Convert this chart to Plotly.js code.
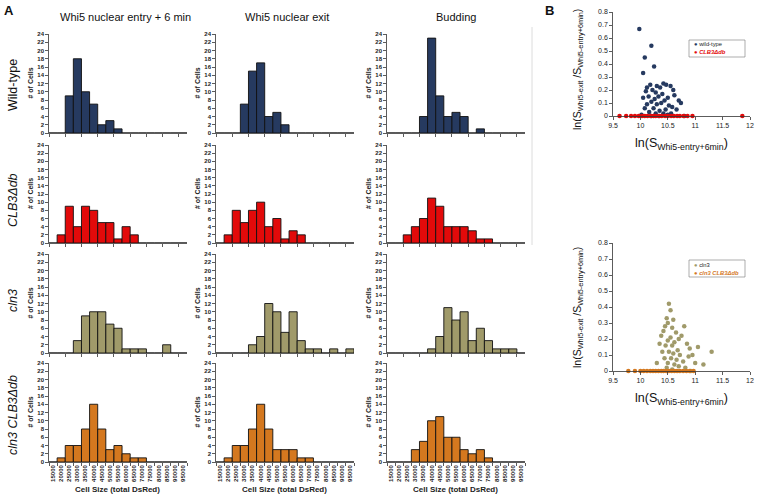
<!DOCTYPE html>
<html><head><meta charset="utf-8">
<script src="https://cdn.plot.ly/plotly-3.0.1.min.js"></script>
<style>html,body{margin:0;padding:0;background:#fff}#chart{width:762px;height:503px}</style>
</head><body><div id="chart"></div>
<script>
// ---- Data ----
const sizeBins = ["15000","20000","25000","30000","35000","40000","45000","50000","55000","60000","65000","70000","75000","80000","85000","90000","95000"];
const stages = ["Whi5 nuclear entry + 6 min","Whi5 nuclear exit","Budding"];
const strains = ["Wild-type","<i>CLB3Δdb</i>","<i>cln3</i>","<i>cln3 CLB3Δdb</i>"];
// counts per bin (# of cells)
const wtEntry   = [0,0,9,18,10,7,2,3,1,0,0,0,0,0,0,0,0];
const wtExit    = [0,0,0,7,15,17,4,5,2,0,0,0,0,0,0,0,0];
const wtBud     = [0,0,0,0,4,23,9,4,5,4,0,1,0,0,0,0,0];
const clbEntry  = [0,2,9,4,9,8,5,5,1,4,2,0,0,0,0,0,0];
const clbExit   = [0,2,8,5,8,10,4,6,1,3,2,0,0,0,0,0,0];
const clbBud    = [0,0,2,4,6,11,9,4,4,4,3,1,1,0,0,0,0];
const cln3Entry = [0,0,0,3,9,10,10,7,6,1,1,1,0,0,2,0,0];
const cln3Exit  = [0,0,0,0,2,4,12,10,5,10,3,1,1,0,1,0,1];
const cln3Bud   = [0,0,0,0,0,1,4,11,8,10,3,6,3,1,1,1,0];
const dblEntry  = [0,1,4,4,8,14,8,3,4,2,1,1,0,0,0,0,0];
const dblExit   = [0,1,4,4,8,14,8,3,3,3,1,1,0,0,0,0,0];
const dblBud    = [0,0,0,3,5,10,11,6,6,3,2,3,1,0,0,0,0];
// scatter (panel B)
const wtX  = [9.98,10.2,10.08,10.25,10.05,10.42,10.18,10.3,10.12,10.36,10.47,10.55,10.22,10.1,10.28,10.4,10.6,10.15,10.33,10.5,10.05,10.26,10.44,10.62,10.2,10.38,10.12,10.3,10.52,10.7,10.08,10.24,10.46,10.35,10.58,10.16,10.42,10.28,10.66,10.02,10.5,10.74,10.2,10.34,10.56,10.8];
const wtY  = [0.67,0.54,0.45,0.38,0.33,0.25,0.24,0.23,0.22,0.22,0.24,0.23,0.2,0.19,0.18,0.17,0.2,0.15,0.15,0.14,0.14,0.13,0.12,0.16,0.11,0.1,0.09,0.09,0.08,0.12,0.06,0.06,0.05,0.04,0.07,0.03,0.02,0.02,0.05,0.01,0.01,0.1,0.0,0.0,0.02,0.0];
const clbX = [9.62,9.74,9.83,9.9,9.97,10.03,10.08,10.13,10.19,10.24,10.28,10.34,10.39,10.45,10.5,10.56,10.61,10.67,10.72,10.79,10.86,10.95,11.86];
const clbY = [0,0,0,0,0,0,0,0,0,0,0,0,0,0,0,0,0,0,0,0,0,0,0];
const cln3X = [10.52,10.55,10.48,10.6,10.5,10.45,10.58,10.42,10.65,10.38,10.55,10.7,10.5,10.62,10.35,10.46,10.58,10.75,10.8,10.85,10.9,10.68,10.4,10.52,10.6,10.72,10.95,11.05,10.44,10.56,10.66,10.78,10.88,10.5,10.62,10.3,11.0,11.3,10.7,10.82,10.48,10.58,11.15,10.92];
const cln3Y = [0.42,0.38,0.33,0.32,0.3,0.28,0.27,0.25,0.24,0.22,0.21,0.2,0.19,0.18,0.17,0.16,0.16,0.22,0.28,0.17,0.14,0.13,0.12,0.12,0.11,0.1,0.1,0.15,0.08,0.08,0.07,0.06,0.09,0.05,0.04,0.05,0.05,0.12,0.03,0.02,0.02,0.01,0.04,0.0];
const dblX = [9.78,9.9,10.0,10.06,10.12,10.18,10.23,10.28,10.33,10.38,10.42,10.47,10.52,10.57,10.62,10.67,10.72,10.78,10.84,10.9,10.97];
const dblY = [0,0,0,0,0,0,0,0,0,0,0,0,0,0,0,0,0,0,0,0,0];

const histData = [[wtEntry,wtExit,wtBud],[clbEntry,clbExit,clbBud],[cln3Entry,cln3Exit,cln3Bud],[dblEntry,dblExit,dblBud]];
const rowColors = ["#263a60","#e20a0a","#a09a6a","#d4781f"];

// ---- Layout geometry (pixels) ----
const W = 762, H = 503;
const px = v => v / W, py = v => 1 - v / H;
const colLeft = [49, 216, 387], colW = 138;
const rowZero = [133, 243, 353, 462], rowTop = [34, 145, 254, 363];
const FF = "Liberation Sans, Arial, sans-serif";

const data = [];
const layout = {
  width: W, height: H, margin: {l:0,r:0,t:0,b:0},
  paper_bgcolor: "#fff", plot_bgcolor: "rgba(0,0,0,0)",
  bargap: 0, showlegend: false, font: {family: FF, color: "#111"},
  annotations: [], shapes: []
};
function note(text, x, y, font, extra) {
  layout.annotations.push(Object.assign({
    text: text, xref: "paper", yref: "paper", x: px(x), y: py(y),
    xanchor: "center", yanchor: "middle", showarrow: false, font: font
  }, extra || {}));
}

let k = 0;
for (let r = 0; r < 4; r++) {
  for (let c = 0; c < 3; c++) {
    k++;
    const xa = "x" + k, ya = "y" + k;
    data.push({
      type: "bar", x: sizeBins, y: histData[r][c], xaxis: xa, yaxis: ya,
      marker: {color: rowColors[r], line: {color: "#111", width: 0.9}},
      showlegend: false, hoverinfo: "skip"
    });
    layout["xaxis" + k] = {
      domain: [px(colLeft[c]), px(colLeft[c] + colW)], anchor: ya,
      type: "category", range: [-0.5, 16.5], tickson: "boundaries",
      ticks: "outside", ticklen: 3, tickwidth: 0.8, tickcolor: "#333",
      showline: true, linecolor: "#333", linewidth: 0.8, showgrid: false, zeroline: false,
      showticklabels: r === 3, tickangle: -90,
      tickfont: {family: FF, size: 6, weight: "bold", color: "#222"}, fixedrange: true
    };
    layout["yaxis" + k] = {
      domain: [py(rowZero[r]), py(rowTop[r])], anchor: xa,
      range: [0, 24], tick0: 0, dtick: 2,
      ticks: "outside", ticklen: 3, tickwidth: 0.8, tickcolor: "#333",
      showline: true, linecolor: "#333", linewidth: 0.8, showgrid: false, zeroline: false,
      tickfont: {family: FF, size: 6, weight: "bold", color: "#222"}, fixedrange: true
    };
    note("# of Cells", colLeft[c] - 19, (rowZero[r] + rowTop[r]) / 2,
      {family: FF, size: 7, weight: "bold", color: "#222"}, {textangle: -90});
  }
}

// column titles
const colTitleX = [125, 287, 456];
stages.forEach((s, i) => note(s, colTitleX[i], 17, {family: FF, size: 11, color: "#111"}));
// row labels
const rowLabelY = [85, 200, 301, 415];
strains.forEach((s, i) => note(s, 13, rowLabelY[i], {family: FF, size: 12.5, color: "#111"}, {textangle: -90}));
// x titles under bottom row
colLeft.forEach(cl => note("Cell Size (total DsRed)", cl + colW / 2 - 1, 489,
  {family: FF, size: 8, weight: "bold", color: "#222"}));
// panel letters
note("A", 9, 11, {family: FF, size: 13, weight: "bold", color: "#111"});
note("B", 549, 11, {family: FF, size: 13, weight: "bold", color: "#111"});
// separator line
layout.shapes.push({type: "line", xref: "paper", yref: "paper", x0: px(532), x1: px(532), y0: py(27), y1: py(245),
  line: {color: "#dcdcdc", width: 1}});

// ---- Scatter panels ----
const scat = [
  {k: 13, top: 12, bot: 116, ytc: 70, series: [[wtX, wtY, "wild-type", "#263a60"], [clbX, clbY, "<b><i>CLB3Δdb</i></b>", "#e20a0a"]], legY: 40},
  {k: 14, top: 243, bot: 371, ytc: 308, series: [[cln3X, cln3Y, "cln3", "#a09a6a"], [dblX, dblY, "<b><i>cln3 CLB3Δdb</i></b>", "#d4781f"]], legY: 260}
];
scat.forEach(p => {
  const xa = "x" + p.k, ya = "y" + p.k;
  p.series.forEach(s => data.push({
    type: "scatter", mode: "markers", x: s[0], y: s[1], name: s[2],
    xaxis: xa, yaxis: ya, cliponaxis: false, showlegend: false,
    marker: {color: s[3], size: 4.5}, hoverinfo: "skip"
  }));
  layout["xaxis" + p.k] = {
    domain: [px(613), px(750)], anchor: ya, range: [9.5, 12], tick0: 9.5, dtick: 0.5,
    ticks: "outside", ticklen: 3, tickwidth: 0.8, tickcolor: "#333",
    showline: true, linecolor: "#333", linewidth: 0.8, showgrid: false, zeroline: false,
    tickfont: {family: FF, size: 7, color: "#222"}, fixedrange: true
  };
  layout["yaxis" + p.k] = {
    domain: [py(p.bot), py(p.top)], anchor: xa, range: [0, 0.8], tick0: 0, dtick: 0.1,
    ticks: "outside", ticklen: 3, tickwidth: 0.8, tickcolor: "#333",
    showline: true, linecolor: "#333", linewidth: 0.8, showgrid: false, zeroline: false,
    tickfont: {family: FF, size: 7, color: "#222"}, fixedrange: true
  };
  note("ln(S<sub>Whi5-exit</sub> /S<sub>Whi5-entry+6min</sub>)", 578, p.ytc,
    {family: FF, size: 10.5, color: "#111"}, {textangle: -90});
  note("ln(S<sub>Whi5-entry+6min</sub>)", 681, p.bot + 28, {family: FF, size: 12.5, color: "#111"});
  // legend box drawn from the series names/colours
  layout.shapes.push({type: "rect", xref: "paper", yref: "paper",
    x0: px(689), x1: px(745), y0: py(p.legY), y1: py(p.legY + 17),
    line: {color: "#777", width: 0.6}, fillcolor: "#fff"});
  p.series.forEach((s, i) => note(
    "<span style='color:" + s[3] + "'>●</span> " + s[2], 692, p.legY + 4.5 + i * 8,
    {family: FF, size: 5.8, color: i === 0 ? "#222" : s[3]},
    {xanchor: "left"}));
});

Plotly.newPlot("chart", data, layout, {staticPlot: true, displayModeBar: false});
</script>
</body></html>
